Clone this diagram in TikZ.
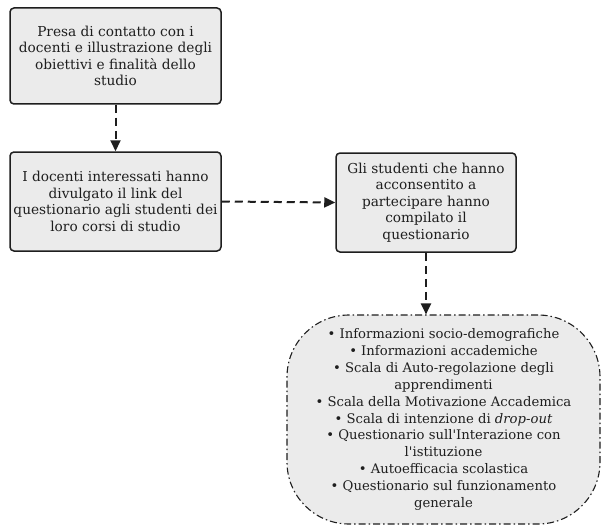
\documentclass[tikz,border=0pt]{standalone}
\usepackage{fontspec}
\setmainfont{DejaVu Serif}
\usetikzlibrary{arrows.meta}
\definecolor{boxfill}{HTML}{EBEBEB}
\definecolor{ink}{HTML}{1E1E1E}
\tikzset{
  stepbox/.style={draw=ink, line width=1.5pt, fill=boxfill, rounded corners=4pt,
    align=center, text=ink, inner sep=0pt, font=\fontsize{13.7}{16.5}\selectfont},
  listbox/.style={draw=ink, line width=1.1pt, fill=boxfill, rounded corners=62pt,
    dash pattern=on 7pt off 3pt on 1.5pt off 3pt,
    align=center, text=ink, inner sep=0pt, font=\fontsize{13.2}{16.9}\selectfont},
  flow/.style={draw=ink, line width=2pt, dash pattern=on 8pt off 5pt,
    -{Triangle[length=11pt,width=10pt]}},
}
\begin{document}
\begin{tikzpicture}[x=1pt,y=-1pt]
\useasboundingbox (0,0) rectangle (603,527);
\node[stepbox, minimum width=211pt, minimum height=96pt] (a) at (115.5,56)
  {Presa di contatto con i\\docenti e illustrazione degli\\obiettivi e finalità dello\\studio};
\node[stepbox, minimum width=211pt, minimum height=99pt] (b) at (115.5,201.5)
  {I docenti interessati hanno\\divulgato il link del\\questionario agli studenti dei\\loro corsi di studio};
\node[stepbox, minimum width=180pt, minimum height=99pt] (c) at (426,202.5)
  {Gli studenti che hanno\\acconsentito a\\partecipare hanno\\compilato il\\questionario};
\node[listbox, minimum width=313pt, minimum height=209pt] (d) at (443.5,419.5)
  {• Informazioni socio-demografiche\\• Informazioni accademiche\\• Scala di Auto-regolazione degli\\apprendimenti\\• Scala della Motivazione Accademica\\• Scala di intenzione di \textit{drop-out}\\• Questionario sull\textquotesingle Interazione con\\l\textquotesingle istituzione\\• Autoefficacia scolastica\\• Questionario sul funzionamento\\generale};
\draw[flow] (a.south) -- (b.north);
\draw[flow] (b.east) -- (c.west);
\draw[flow] (c.south) -- (c.south |- d.north);
\end{tikzpicture}
\end{document}
